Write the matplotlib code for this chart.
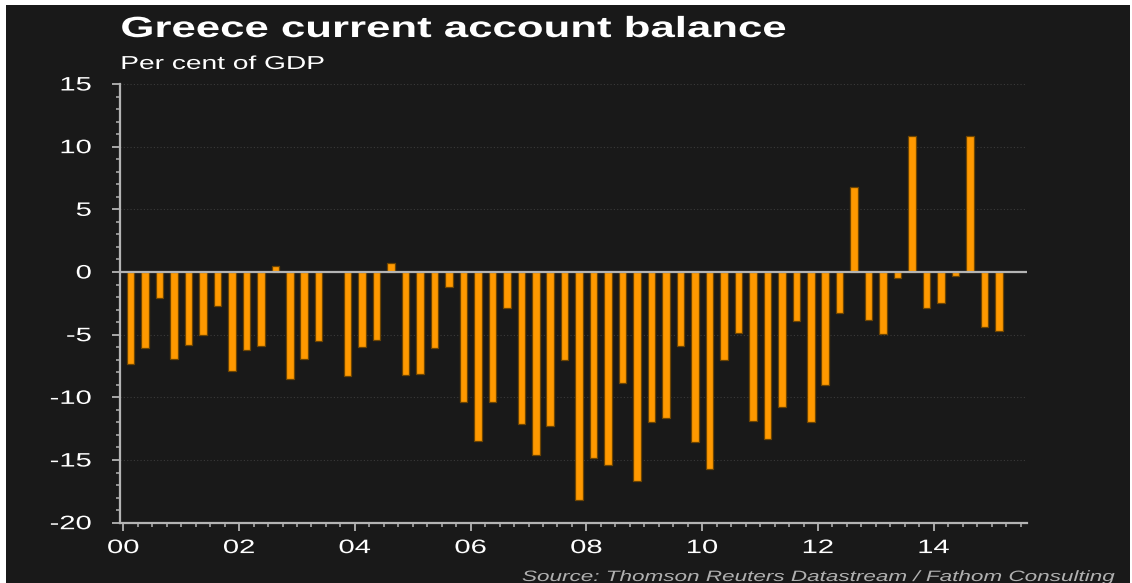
#!/usr/bin/env python3
"""Greece current account balance, quarterly, per cent of GDP"""

import numpy as np
import pandas as pd
import matplotlib

matplotlib.use("Agg")
import matplotlib.pyplot as plt
from matplotlib.patches import Rectangle
from matplotlib.patheffects import AbstractPathEffect
from matplotlib.ticker import MultipleLocator
from matplotlib.transforms import Affine2D

# 数据: 2000Q1 - 2015Q1 (2003Q3 无数据)
quarters = pd.period_range("2000Q1", "2015Q1", freq="Q")
balance = [
    -7.3, -6.1, -2.1, -6.9,
    -5.8, -5.0, -2.7, -7.9,
    -6.2, -5.9, 0.5, -8.5,
    -6.9, -5.5, np.nan, -8.3,
    -6.0, -5.4, 0.75, -8.2,
    -8.1, -6.05, -1.2, -10.4,
    -13.5, -10.4, -2.9, -12.1,
    -14.6, -12.3, -7.0, -18.2,
    -14.8, -15.4, -8.85, -16.7,
    -12.0, -11.65, -5.9, -13.6,
    -15.7, -7.05, -4.9, -11.85,
    -13.3, -10.75, -3.9, -12.0,
    -9.0, -3.25, 6.8, -3.8,
    -4.95, -0.5, 10.85, -2.85,
    -2.45, -0.35, 10.85, -4.4,
    -4.7,
]
year_ticks = [2000, 2002, 2004, 2006, 2008, 2010, 2012, 2014]
year_labels = ["00", "02", "04", "06", "08", "10", "12", "14"]
y_ticks = [15, 10, 5, 0, -5, -10, -15, -20]

BG = "#191919"
ORANGE = "#ff9900"
AXIS = "#b4b4b4"
WIDE = 1.5  # 原图横向被拉伸过


class Widen(AbstractPathEffect):
    """把文字横向拉宽, 模仿原图的拉伸效果"""

    def __init__(self, k=WIDE, anchor="left"):
        super().__init__()
        self.k = k
        self.anchor = anchor

    def draw_path(self, renderer, gc, tpath, affine, rgbFace=None):
        bb = tpath.get_extents(affine)
        px = {"left": bb.x0, "center": (bb.x0 + bb.x1) / 2, "right": bb.x1}[self.anchor]
        affine = affine + Affine2D().translate(-px, 0).scale(self.k, 1).translate(px, 0)
        renderer.draw_path(gc, tpath, affine, rgbFace)


plt.rcParams["font.family"] = ["Liberation Sans", "DejaVu Sans"]

W, H = 1132, 583
fig = plt.figure(figsize=(W / 100, H / 100), dpi=100)
fig.patch.set_facecolor("white")
fig.add_artist(
    Rectangle((6 / W, 0), (1130 - 6) / W, (H - 5) / H, transform=fig.transFigure,
              facecolor=BG, edgecolor="none", zorder=-1)
)

ax = fig.add_axes([120 / W, 1 - 522.7 / H, (1027 - 120) / W, (522.7 - 84) / H])
ax.set_facecolor(BG)

x = np.array([q.year + (q.quarter - 1) / 4 + 0.125 for q in quarters])
ax.bar(x, balance, width=0.13, color=ORANGE, edgecolor="#6e4400", linewidth=0.9, zorder=3)

ax.axhline(0, color=AXIS, linewidth=1.6, zorder=4)
for yv in y_ticks:
    if yv not in (0, -20):
        ax.axhline(yv, color="#3a3a3a", linewidth=0.8, linestyle=(0, (1, 2)), zorder=1)

ax.set_xlim(1999.943, 2015.61)
ax.set_ylim(-20, 15)
ax.set_xticks(year_ticks)
ax.set_xticklabels(year_labels)
ax.set_yticks(y_ticks)
ax.set_yticklabels([str(v) for v in y_ticks])
ax.xaxis.set_minor_locator(MultipleLocator(0.25))
ax.yaxis.set_minor_locator(MultipleLocator(1))

for s in ["top", "right"]:
    ax.spines[s].set_visible(False)
for s in ["left", "bottom"]:
    ax.spines[s].set_color(AXIS)
    ax.spines[s].set_linewidth(1.6)

ax.tick_params(which="major", color=AXIS, width=1.3, length=5.5, labelcolor="white",
               labelsize=14)
ax.tick_params(which="minor", color=AXIS, width=1.1, length=3)
ax.tick_params(axis="y", which="major", pad=15)
ax.tick_params(axis="x", which="major", pad=7)

for lbl in ax.get_yticklabels():
    lbl.set_path_effects([Widen(anchor="right")])
for lbl in ax.get_xticklabels():
    lbl.set_path_effects([Widen(anchor="center")])

t = fig.text(121 / W, 1 - 37 / H, "Greece current account balance", color="white",
             fontsize=21, fontweight="bold", va="baseline", ha="left")
t.set_path_effects([Widen()])
t = fig.text(121 / W, 1 - 69 / H, "Per cent of GDP", color="white",
             fontsize=13.5, va="baseline", ha="left")
t.set_path_effects([Widen()])
t = fig.text(1115 / W, 1 - 581 / H, "Source: Thomson Reuters Datastream / Fathom Consulting",
             color="#b0b0b0", fontsize=10.8, style="italic", va="baseline", ha="right")
t.set_path_effects([Widen(anchor="right")])

fig.savefig("out.png", dpi=100, facecolor=fig.get_facecolor())
plt.close(fig)
